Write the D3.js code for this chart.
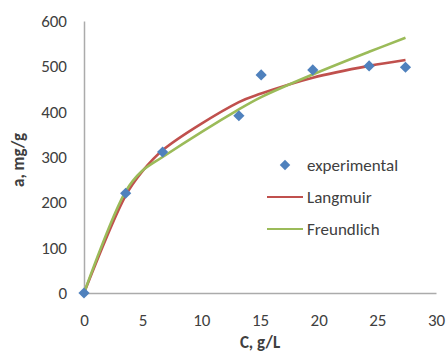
<!DOCTYPE html>
<html><head><meta charset="utf-8">
<script src="https://cdn.jsdelivr.net/npm/d3@7"></script>
<style>html,body{margin:0;padding:0;background:#fff;}svg{display:block;}</style>
</head><body>
<script>
const expC = [0, 3.55, 6.7, 13.2, 15.1, 19.5, 24.3, 27.4];
const expA = [0, 220, 311, 391, 481, 492, 501, 498];
const modelC = [0, 3.55, 4.9, 6.7, 13.2, 15.1, 19.5, 24.3, 27.4];
const langmuir = [0, 215, 266, 315, 421, 440, 475, 501, 514];
const freundlich = [0, 224, 268, 300, 405, 432, 482, 532, 563];
const xTicks = [0, 5, 10, 15, 20, 25, 30];
const yTicks = [0, 100, 200, 300, 400, 500, 600];
const seriesNames = ["experimental", "Langmuir", "Freundlich"];
const colors = ["#4F81BD", "#C0504D", "#9BBB59"];

const W = 447, H = 354;
const svg = d3.select("body").append("svg").attr("width", W).attr("height", H);
const x = d3.scaleLinear().domain([0, 30]).range([84, 436]);
const y = d3.scaleLinear().domain([0, 600]).range([293, 21]);
const font = "Carlito, 'Liberation Sans', Arial, sans-serif";
const txt = "#404040";
const fs = "17px";

// axes
const xAxis = svg.append("g").attr("transform", `translate(0,${y(0)})`)
  .call(d3.axisBottom(x).tickValues(xTicks).tickSize(0).tickPadding(21));
const yAxis = svg.append("g").attr("transform", `translate(${x(0)},0)`)
  .call(d3.axisLeft(y).tickValues(yTicks).tickSize(0).tickPadding(17));
[xAxis, yAxis].forEach(g => {
  g.select(".domain").attr("stroke", "#ababab").attr("stroke-width", 1.5);
  g.selectAll("text").attr("fill", txt).style("font-family", font).style("font-size", fs);
});

// axis titles
svg.append("text").attr("x", 260).attr("y", 348).attr("text-anchor", "middle")
  .attr("fill", txt).style("font-family", font).style("font-size", fs).style("font-weight", "bold")
  .text("C, g/L");
svg.append("text").attr("transform", "translate(24,160) rotate(-90)").attr("text-anchor", "middle")
  .attr("fill", txt).style("font-family", font).style("font-size", fs).style("font-weight", "bold")
  .text("a, mg/g");

// model lines
const line = d3.line().x(d => x(d[0])).y(d => y(d[1])).curve(d3.curveCatmullRom.alpha(0.5));
[langmuir, freundlich].forEach((vals, i) => {
  svg.append("path").datum(modelC.map((c, j) => [c, vals[j]]))
    .attr("d", line).attr("fill", "none").attr("stroke", colors[i + 1]).attr("stroke-width", 2.6);
});

// experimental diamonds
const diamond = d3.symbol().type(d3.symbolDiamond2).size(80);
svg.append("g").selectAll("path").data(expC.map((c, j) => [c, expA[j]])).join("path")
  .attr("d", diamond).attr("transform", d => `translate(${x(d[0])},${y(d[1])})`)
  .attr("fill", colors[0]);

// legend
const leg = svg.append("g");
const legY = [165, 197, 229];
seriesNames.forEach((name, i) => {
  if (i === 0) {
    leg.append("path").attr("d", d3.symbol().type(d3.symbolDiamond2).size(70))
      .attr("transform", `translate(285,${legY[i]})`).attr("fill", colors[0]);
  } else {
    leg.append("line").attr("x1", 267).attr("x2", 303).attr("y1", legY[i]).attr("y2", legY[i])
      .attr("stroke", colors[i]).attr("stroke-width", 2);
  }
  leg.append("text").attr("x", 307).attr("y", legY[i]).attr("dy", "0.35em")
    .attr("fill", txt).style("font-family", font).style("font-size", fs).text(name);
});
</script>
</body></html>
